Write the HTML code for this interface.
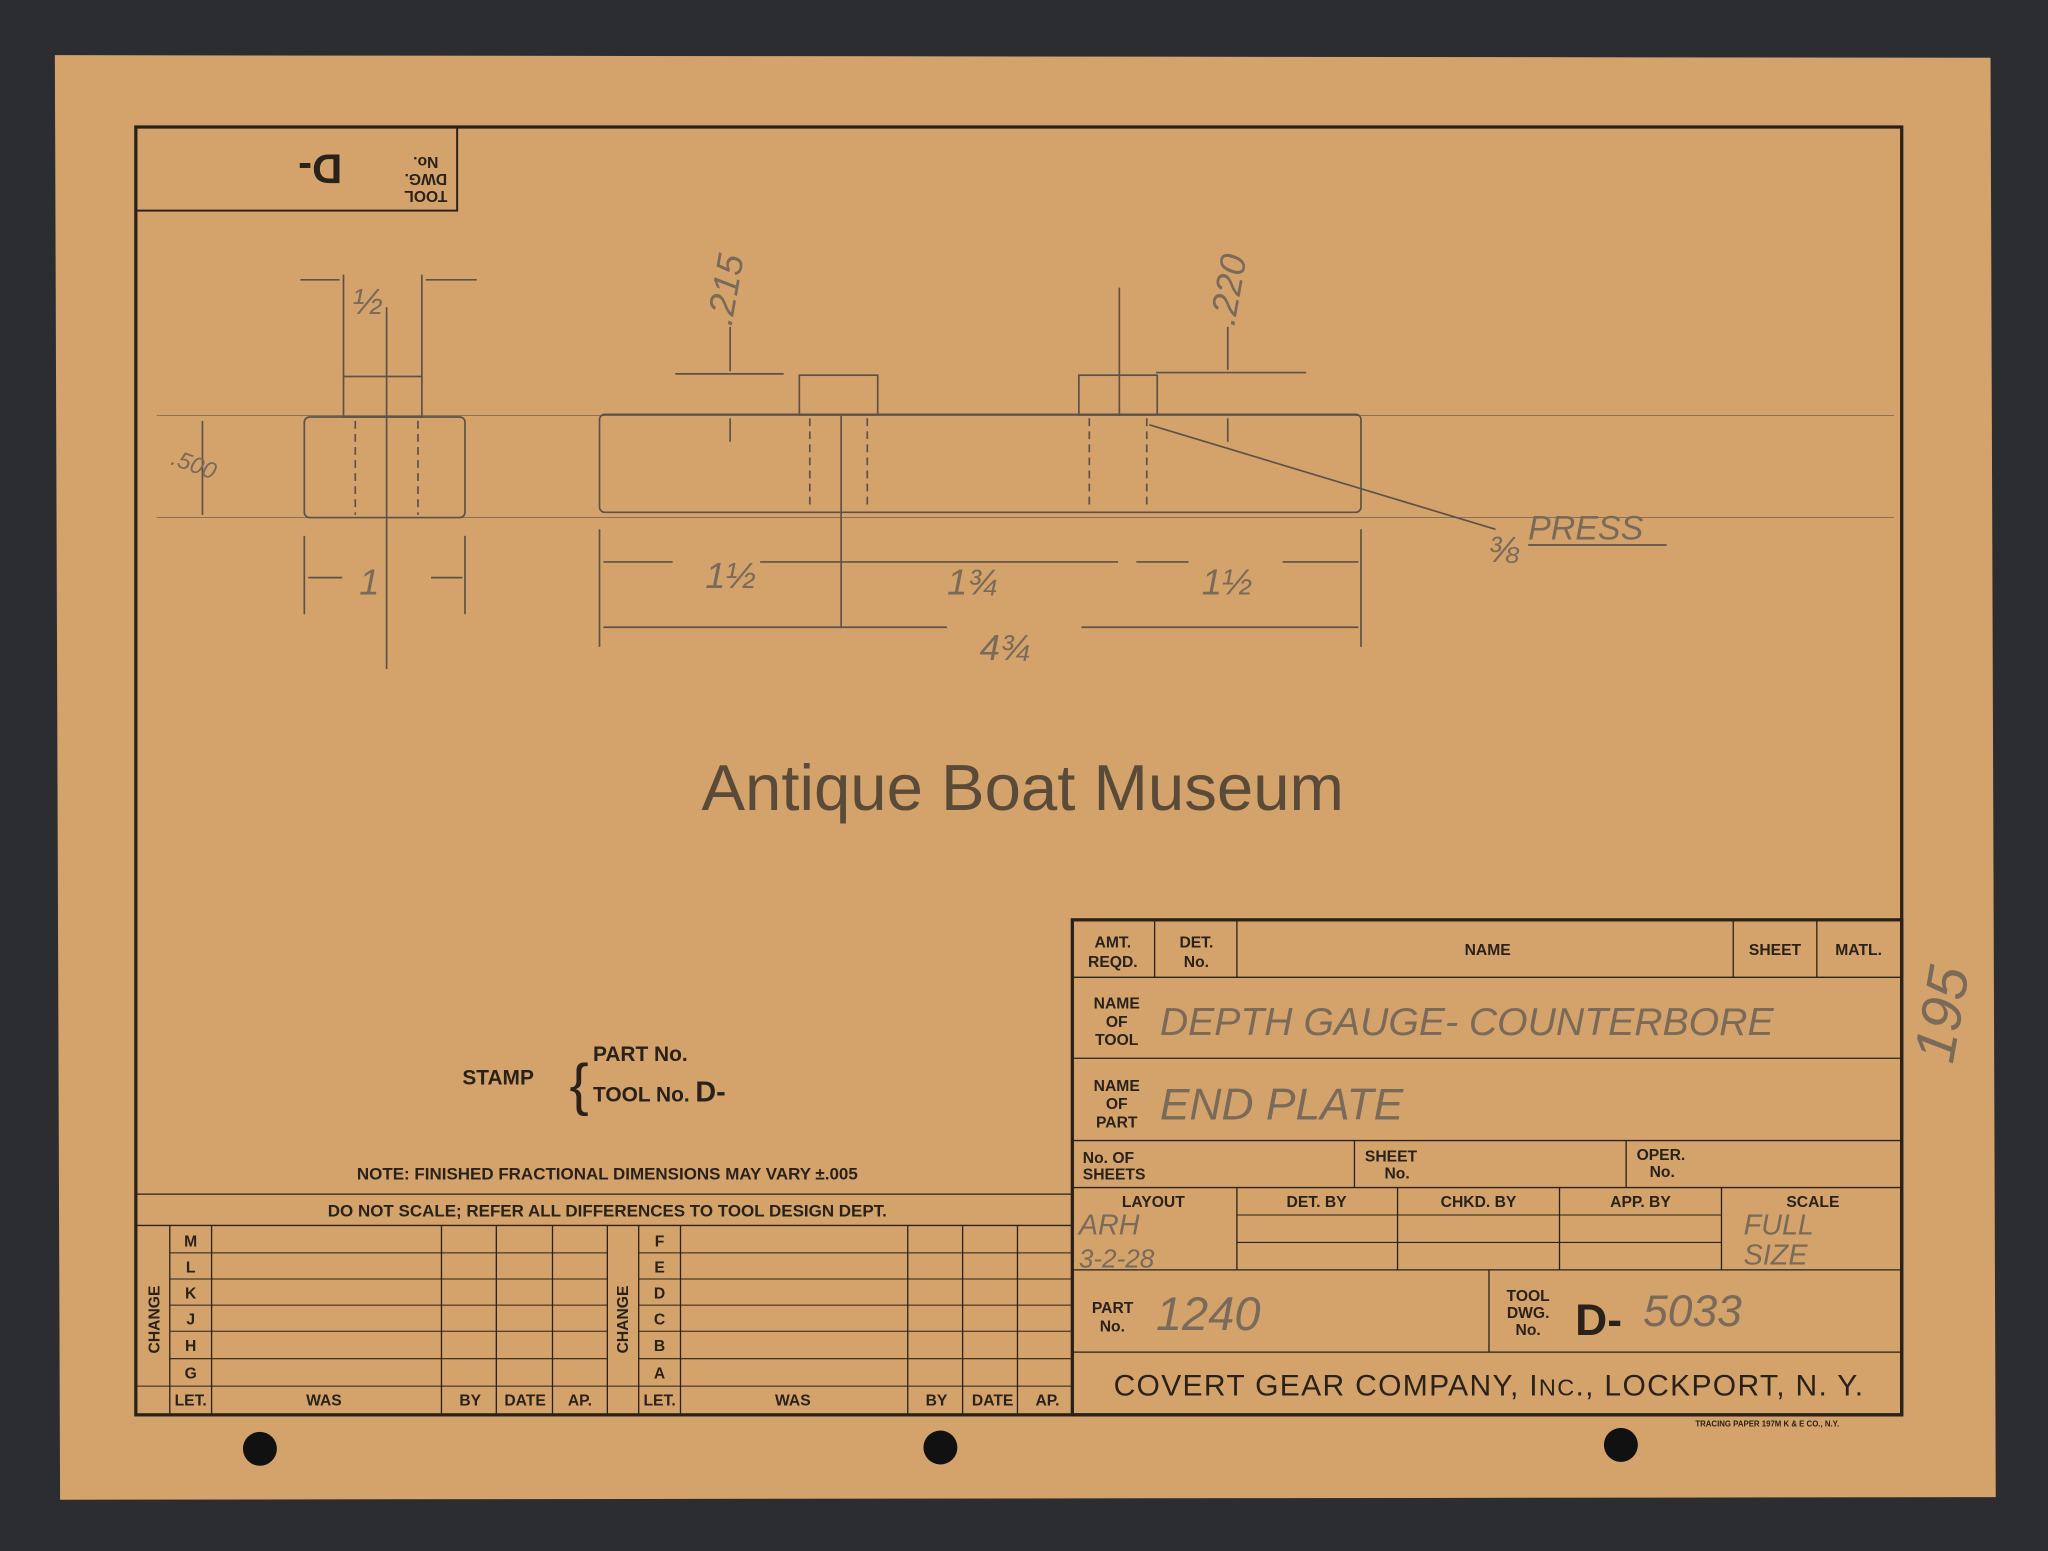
<!DOCTYPE html>
<html><head><meta charset="utf-8"><style>
html,body{margin:0;padding:0;background:#2b2d30;}
svg{display:block;}
text{font-family:"Liberation Sans",sans-serif;}
.p{fill:#2a221a;font-weight:bold;}
.h{fill:#7a6a5a;font-family:"Liberation Sans",sans-serif;font-style:italic;}
</style></head><body>
<svg width="2048" height="1551" viewBox="0 0 1568 1187" xmlns="http://www.w3.org/2000/svg">
<rect width="1568" height="1187" fill="#2b2d30"/>
<polygon points="42,42 1524,44 1528,1146 46,1148" fill="#d4a36b"/>
<g fill="none" stroke="#2a221a">
<rect x="104" y="97" width="1352" height="986" stroke-width="2.5"/>
<rect x="104" y="97" width="246" height="64" stroke-width="1.5"/>
<rect x="821" y="704" width="635" height="379" stroke-width="2.5"/>
<line x1="821" y1="748" x2="1456" y2="748"/>
<line x1="884" y1="704" x2="884" y2="748"/>
<line x1="947" y1="704" x2="947" y2="748"/>
<line x1="1327" y1="704" x2="1327" y2="748"/>
<line x1="1391" y1="704" x2="1391" y2="748"/>
<line x1="821" y1="810" x2="1456" y2="810"/>
<line x1="821" y1="873" x2="1456" y2="873"/>
<line x1="821" y1="909" x2="1456" y2="909"/>
<line x1="1037" y1="873" x2="1037" y2="909"/>
<line x1="1245" y1="873" x2="1245" y2="909"/>
<line x1="821" y1="972" x2="1456" y2="972"/>
<line x1="947" y1="909" x2="947" y2="972"/>
<line x1="1070" y1="909" x2="1070" y2="972"/>
<line x1="1194" y1="909" x2="1194" y2="972"/>
<line x1="1318" y1="909" x2="1318" y2="972"/>
<line x1="947" y1="930" x2="1318" y2="930" stroke-width="0.8"/>
<line x1="947" y1="951" x2="1318" y2="951" stroke-width="0.8"/>
<line x1="821" y1="1035" x2="1456" y2="1035"/>
<line x1="1140" y1="972" x2="1140" y2="1035"/>
<line x1="104" y1="914" x2="821" y2="914"/>
<line x1="104" y1="938" x2="821" y2="938"/>
<line x1="130" y1="938" x2="130" y2="1083"/>
<line x1="162" y1="938" x2="162" y2="1083"/>
<line x1="338" y1="938" x2="338" y2="1083"/>
<line x1="380" y1="938" x2="380" y2="1083"/>
<line x1="423" y1="938" x2="423" y2="1083"/>
<line x1="465" y1="938" x2="465" y2="1083"/>
<line x1="489" y1="938" x2="489" y2="1083"/>
<line x1="521" y1="938" x2="521" y2="1083"/>
<line x1="695" y1="938" x2="695" y2="1083"/>
<line x1="737" y1="938" x2="737" y2="1083"/>
<line x1="779" y1="938" x2="779" y2="1083"/>
<g stroke-width="0.8">
<line x1="130" y1="959" x2="465" y2="959"/><line x1="130" y1="979" x2="465" y2="979"/>
<line x1="130" y1="999" x2="465" y2="999"/><line x1="130" y1="1019" x2="465" y2="1019"/>
<line x1="130" y1="1040" x2="465" y2="1040"/><line x1="104" y1="1061" x2="465" y2="1061"/>
<line x1="489" y1="959" x2="821" y2="959"/><line x1="489" y1="979" x2="821" y2="979"/>
<line x1="489" y1="999" x2="821" y2="999"/><line x1="489" y1="1019" x2="821" y2="1019"/>
<line x1="489" y1="1040" x2="821" y2="1040"/><line x1="465" y1="1061" x2="821" y2="1061"/>
</g>
</g>
<g fill="none" stroke="#5e5248" stroke-width="1.3">
<rect x="233" y="319" width="123" height="77" rx="4"/>
<rect x="263" y="288" width="60" height="31"/>
<rect x="459" y="317" width="583" height="75" rx="4"/>
<rect x="612" y="287" width="60" height="30"/>
<rect x="826" y="287" width="60" height="30"/>
<line x1="296" y1="235" x2="296" y2="512"/>
<line x1="644" y1="318" x2="644" y2="480"/>
<line x1="857" y1="220" x2="857" y2="318"/>
<line x1="120" y1="318" x2="1450" y2="318" stroke-width="0.5"/>
<line x1="120" y1="396" x2="1450" y2="396" stroke-width="0.5"/>
<line x1="263" y1="210" x2="263" y2="288"/><line x1="323" y1="210" x2="323" y2="288"/>
<line x1="230" y1="214" x2="260" y2="214"/><line x1="326" y1="214" x2="365" y2="214"/>
<line x1="155" y1="322" x2="155" y2="394"/>
<line x1="233" y1="410" x2="233" y2="470"/><line x1="356" y1="410" x2="356" y2="470"/>
<line x1="236" y1="442" x2="262" y2="442"/><line x1="330" y1="442" x2="354" y2="442"/>
<line x1="517" y1="286" x2="600" y2="286"/><line x1="559" y1="250" x2="559" y2="284"/><line x1="559" y1="320" x2="559" y2="338"/>
<line x1="885" y1="285" x2="1000" y2="285"/><line x1="940" y1="250" x2="940" y2="283"/><line x1="940" y1="320" x2="940" y2="338"/>
<line x1="459" y1="405" x2="459" y2="495"/><line x1="1042" y1="405" x2="1042" y2="495"/>
<line x1="462" y1="430" x2="515" y2="430"/><line x1="582" y1="430" x2="856" y2="430"/>
<line x1="870" y1="430" x2="910" y2="430"/><line x1="982" y1="430" x2="1040" y2="430"/>
<line x1="462" y1="480" x2="725" y2="480"/><line x1="828" y1="480" x2="1040" y2="480"/>
<line x1="880" y1="325" x2="1145" y2="405"/>
<line x1="1170" y1="417" x2="1276" y2="417"/>
<line x1="272" y1="322" x2="272" y2="394" stroke-dasharray="6 4"/><line x1="320" y1="322" x2="320" y2="394" stroke-dasharray="6 4"/>
<line x1="620" y1="320" x2="620" y2="390" stroke-dasharray="6 4"/><line x1="664" y1="320" x2="664" y2="390" stroke-dasharray="6 4"/>
<line x1="834" y1="320" x2="834" y2="390" stroke-dasharray="6 4"/><line x1="878" y1="320" x2="878" y2="390" stroke-dasharray="6 4"/>
</g>
<text x="783" y="620" font-size="50" fill="#5a4a38" text-anchor="middle">Antique Boat Museum</text>
<g class="h" font-size="28">
<text x="270" y="240">½</text><text x="540" y="450">1½</text><text x="725" y="455">1¾</text>
<text x="920" y="455">1½</text><text x="750" y="505">4¾</text><text x="1140" y="430">⅜</text>
<text x="1170" y="413" font-size="26">PRESS</text>
<text x="275" y="455">1</text>
<text x="560" y="250" transform="rotate(-80 560 250)">.215</text>
<text x="945" y="250" transform="rotate(-80 945 250)">.220</text>
<text x="130" y="355" font-size="18" transform="rotate(20 130 355)">.500</text>
<text x="888" y="792" font-size="30">DEPTH GAUGE-  COUNTERBORE</text>
<text x="888" y="857" font-size="34">END PLATE</text>
<text x="885" y="1018" font-size="36">1240</text>
<text x="1258" y="1015" font-size="34">5033</text>
<text x="826" y="945" font-size="22">ARH</text><text x="826" y="970" font-size="20">3-2-28</text>
<text x="1335" y="945" font-size="22">FULL</text><text x="1335" y="968" font-size="22">SIZE</text>
<text x="1495" y="815" font-size="44" transform="rotate(-80 1495 815)">195</text>
</g>
<g class="p" font-size="12" text-anchor="middle">
<text x="852" y="725">AMT.</text><text x="852" y="740">REQD.</text>
<text x="916" y="725">DET.</text><text x="916" y="740">No.</text>
<text x="1139" y="731">NAME</text><text x="1359" y="731">SHEET</text><text x="1423" y="731">MATL.</text>
<text x="855" y="772">NAME</text><text x="855" y="786">OF</text><text x="855" y="800">TOOL</text>
<text x="855" y="835">NAME</text><text x="855" y="849">OF</text><text x="855" y="863">PART</text>
<text x="883" y="924">LAYOUT</text><text x="1008" y="924">DET. BY</text><text x="1132" y="924">CHKD. BY</text>
<text x="1256" y="924">APP. BY</text><text x="1388" y="924">SCALE</text>
<text x="1170" y="996">TOOL</text><text x="1170" y="1009">DWG.</text><text x="1170" y="1022">No.</text>
<text x="326" y="120" transform="rotate(180 326 120)">No.</text>
<text x="326" y="133" transform="rotate(180 326 133)">DWG.</text>
<text x="326" y="146" transform="rotate(180 326 146)">TOOL</text>
<text x="465" y="903" font-size="13">NOTE: FINISHED FRACTIONAL DIMENSIONS MAY VARY ±.005</text>
<text x="465" y="931" font-size="13">DO NOT SCALE; REFER ALL DIFFERENCES TO TOOL DESIGN DEPT.</text>
<text x="146" y="1076">LET.</text><text x="248" y="1076">WAS</text><text x="360" y="1076">BY</text><text x="402" y="1076">DATE</text><text x="444" y="1076">AP.</text>
<text x="505" y="1076">LET.</text><text x="607" y="1076">WAS</text><text x="717" y="1076">BY</text><text x="760" y="1076">DATE</text><text x="802" y="1076">AP.</text>
<text x="146" y="954">M</text><text x="146" y="974">L</text><text x="146" y="994">K</text><text x="146" y="1014">J</text><text x="146" y="1034">H</text><text x="146" y="1055">G</text>
<text x="505" y="954">F</text><text x="505" y="974">E</text><text x="505" y="994">D</text><text x="505" y="1014">C</text><text x="505" y="1034">B</text><text x="505" y="1055">A</text>
<text x="122" y="1010" transform="rotate(-90 122 1010)">CHANGE</text>
<text x="481" y="1010" transform="rotate(-90 481 1010)">CHANGE</text>
</g>
<g class="p" text-anchor="start" font-size="12">
<text x="829" y="890">No. OF</text><text x="829" y="903">SHEETS</text>
<text x="1045" y="889">SHEET</text><text x="1060" y="902">No.</text>
<text x="1253" y="888">OPER.</text><text x="1263" y="901">No.</text>
<text x="836" y="1005">PART</text><text x="842" y="1019">No.</text>
</g>
<text class="p" x="290" y="138" font-size="32" transform="rotate(180 276 128)">D-</text>
<text class="p" x="1206" y="1022" font-size="34">D-</text>
<text x="1140" y="1068" font-size="23" text-anchor="middle" fill="#2a221a" letter-spacing="1">COVERT GEAR COMPANY, I<tspan font-size="18">NC</tspan>., LOCKPORT, N. Y.</text>
<text class="p" x="354" y="830" font-size="16">STAMP</text>
<text x="436" y="845" font-size="44" fill="#2a221a">{</text>
<text class="p" x="454" y="812" font-size="16">PART No.</text>
<text class="p" x="454" y="843" font-size="16">TOOL No. <tspan font-size="22">D-</tspan></text>
<text class="p" x="1298" y="1092" font-size="6">TRACING PAPER 197M K &amp; E CO., N.Y.</text>
<circle cx="199" cy="1109" r="13" fill="#111"/>
<circle cx="720" cy="1108" r="13" fill="#111"/>
<circle cx="1241" cy="1106" r="13" fill="#111"/>
</svg>
</body></html>
